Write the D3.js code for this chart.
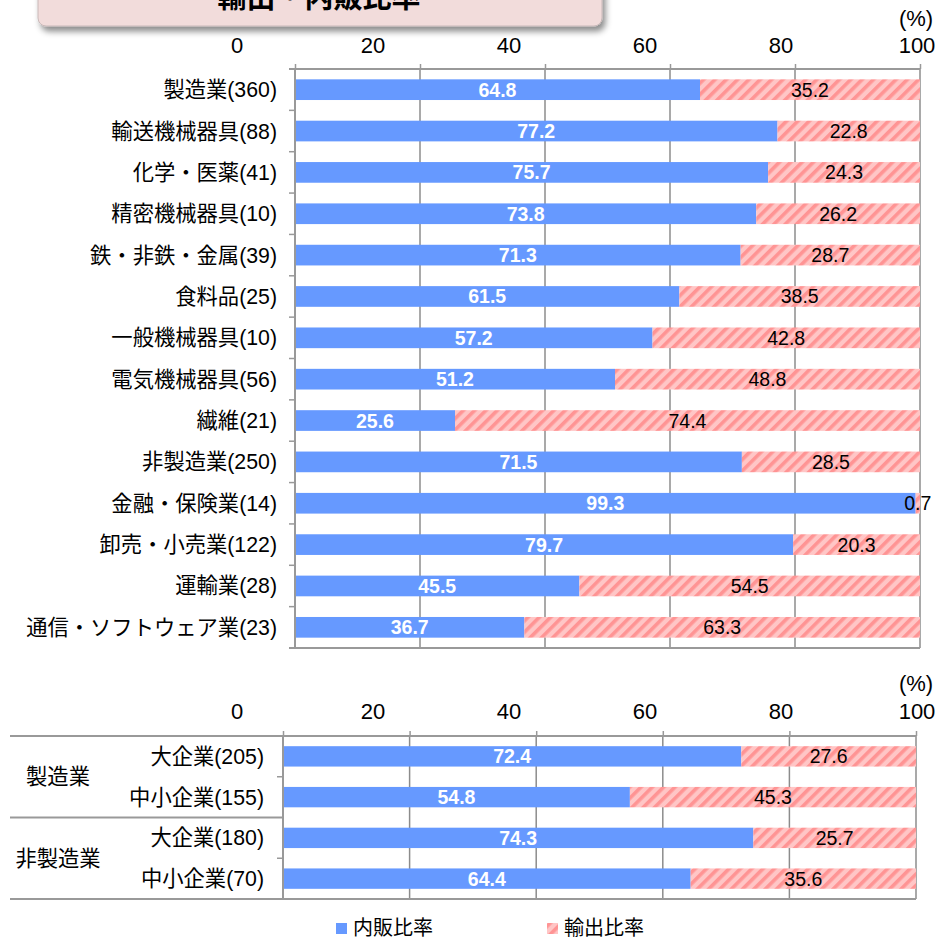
<!DOCTYPE html>
<html>
<head>
<meta charset="utf-8">
<script src="https://cdn.jsdelivr.net/npm/d3@7"></script>
<style>
  html, body { margin: 0; padding: 0; background: #fff; }
  svg { display: block; }
  text { font-family: "Liberation Sans", Arial, "Noto Sans CJK JP", sans-serif; }
</style>
</head>
<body>
<svg id="chart" width="945" height="939"></svg>
<script>
// ---------- data ----------
const titleText = "輸出・内販比率";
const seriesNames = ["内販比率", "輸出比率"];
const tickValues = [0, 20, 40, 60, 80, 100];

const topCategories = ["製造業(360)", "輸送機械器具(88)", "化学・医薬(41)", "精密機械器具(10)",
  "鉄・非鉄・金属(39)", "食料品(25)", "一般機械器具(10)", "電気機械器具(56)", "繊維(21)",
  "非製造業(250)", "金融・保険業(14)", "卸売・小売業(122)", "運輸業(28)", "通信・ソフトウェア業(23)"];
const topDomestic = [64.8, 77.2, 75.7, 73.8, 71.3, 61.5, 57.2, 51.2, 25.6, 71.5, 99.3, 79.7, 45.5, 36.7];
const topExport   = [35.2, 22.8, 24.3, 26.2, 28.7, 38.5, 42.8, 48.8, 74.4, 28.5, 0.7, 20.3, 54.5, 63.3];

const botGroups = ["製造業", "非製造業"];
const botSub = ["大企業(205)", "中小企業(155)", "大企業(180)", "中小企業(70)"];
const botGroupOf = [0, 0, 1, 1];
const botDomestic = [72.4, 54.8, 74.3, 64.4];
const botExport   = [27.6, 45.3, 25.7, 35.6];

// ---------- styles ----------
const BLUE = "#6699FF";
const PINK_BG = "#FFC6C6";
const PINK_ST = "#FF9494";
const GRID = "#8c8c8c";
const AXIS = "#999999";
const LABEL_FS = 21.3;
const VALUE_FS = 19.5;

const svg = d3.select("#chart");
const defs = svg.append("defs");

const pat = defs.append("pattern")
  .attr("id", "hatch").attr("patternUnits", "userSpaceOnUse")
  .attr("width", 8).attr("height", 8)
  .attr("patternTransform", "rotate(45)");
pat.append("rect").attr("width", 8).attr("height", 8).attr("fill", PINK_BG);
pat.append("rect").attr("x", 0).attr("y", 0).attr("width", 3.6).attr("height", 8).attr("fill", PINK_ST);

const sh = defs.append("filter").attr("id", "shadow")
  .attr("x", "-10%").attr("y", "-50%").attr("width", "130%").attr("height", "250%");
sh.append("feDropShadow").attr("dx", 3).attr("dy", 5).attr("stdDeviation", 3)
  .attr("flood-color", "#000").attr("flood-opacity", 0.45);

// ---------- title box ----------
svg.append("rect")
  .attr("x", 38).attr("y", -20).attr("width", 564).attr("height", 46)
  .attr("rx", 8).attr("fill", "#F2DCDB").attr("stroke", "#c8b8b8").attr("stroke-width", 1)
  .attr("filter", "url(#shadow)");
svg.append("text")
  .attr("x", 319).attr("y", 8)
  .attr("text-anchor", "middle")
  .attr("font-size", 29).attr("font-weight", "bold").attr("fill", "#000")
  .text(titleText);

// ---------- generic panel ----------
function drawPanel(opt) {
  const { cats, dom, exp, xRange, yRange, labelRange, labelBaseline, pctBaseline, catLabelX } = opt;
  const x = d3.scaleLinear().domain([0, 100]).range(xRange);
  const xl = d3.scaleLinear().domain([0, 100]).range(labelRange);
  const y = d3.scaleBand().domain(d3.range(cats.length)).range(yRange)
    .paddingInner(0.5).paddingOuter(0.25);
  const g = svg.append("g");
  const top = yRange[0], bottom = yRange[1];

  // gridlines
  g.append("g").selectAll("line").data(tickValues).join("line")
    .attr("x1", d => x(d)).attr("x2", d => x(d))
    .attr("y1", top).attr("y2", bottom)
    .attr("stroke", GRID).attr("stroke-width", 1.5);

  // top axis with tick marks
  const ax = g.append("g").attr("transform", `translate(0,${top})`)
    .call(d3.axisTop(x).tickValues(tickValues).tickSize(5).tickSizeOuter(0).tickFormat(""));
  ax.select(".domain").remove();
  ax.selectAll(".tick line").attr("stroke", AXIS).attr("stroke-width", 1.5);

  // tick labels (offset row, as in the reference)
  g.append("g").selectAll("text").data(tickValues).join("text")
    .attr("x", d => xl(d)).attr("y", labelBaseline)
    .attr("text-anchor", "middle").attr("font-size", 22).attr("fill", "#000")
    .text(d => d);
  g.append("text").attr("x", 916).attr("y", pctBaseline)
    .attr("text-anchor", "middle").attr("font-size", 22).attr("fill", "#000").text("(%)");

  // bars
  const rows = cats.map((c, i) => ({ i, d: dom[i], e: exp[i] }));
  g.append("g").selectAll("rect").data(rows).join("rect")
    .attr("x", r => x(0)).attr("y", r => y(r.i))
    .attr("width", r => x(r.d) - x(0)).attr("height", y.bandwidth())
    .attr("fill", BLUE);
  g.append("g").selectAll("rect").data(rows).join("rect")
    .attr("x", r => x(r.d)).attr("y", r => y(r.i))
    .attr("width", r => Math.min(x(r.d + r.e), x(100)) - x(r.d)).attr("height", y.bandwidth())
    .attr("fill", "url(#hatch)");

  // value labels
  g.append("g").selectAll("text").data(rows).join("text")
    .attr("x", r => (x(0) + x(r.d)) / 2).attr("y", r => y(r.i) + y.bandwidth() / 2 + 7)
    .attr("text-anchor", "middle").attr("font-size", VALUE_FS).attr("font-weight", "bold")
    .attr("fill", "#fff").text(r => r.d.toFixed(1));
  g.append("g").selectAll("text").data(rows).join("text")
    .attr("x", r => (x(r.d) + Math.min(x(r.d + r.e), x(100))) / 2).attr("y", r => y(r.i) + y.bandwidth() / 2 + 7)
    .attr("text-anchor", "middle").attr("font-size", VALUE_FS)
    .attr("fill", "#000").text(r => r.e.toFixed(1));

  // axis lines
  g.append("line").attr("x1", x(0) - 6).attr("x2", x(100)).attr("y1", top).attr("y2", top)
    .attr("stroke", AXIS).attr("stroke-width", 2);
  g.append("line").attr("x1", x(0) - 6).attr("x2", x(100)).attr("y1", bottom).attr("y2", bottom)
    .attr("stroke", AXIS).attr("stroke-width", 2);
  g.append("line").attr("x1", x(0)).attr("x2", x(0)).attr("y1", top).attr("y2", bottom)
    .attr("stroke", AXIS).attr("stroke-width", 2);

  // category labels
  g.append("g").selectAll("text").data(cats).join("text")
    .attr("x", catLabelX).attr("y", (c, i) => y(i) + y.bandwidth() / 2 + 7.5)
    .attr("text-anchor", "end").attr("font-size", LABEL_FS).attr("fill", "#000")
    .text(c => c);
  return { x, y, g, top, bottom };
}

// ---------- top panel ----------
const P1 = drawPanel({
  cats: topCategories, dom: topDomestic, exp: topExport,
  xRange: [295, 920], yRange: [69, 648], labelRange: [237, 917],
  labelBaseline: 53, pctBaseline: 26, catLabelX: 277
});
// left ticks at category boundaries
{
  const step = P1.y.step();
  const b = d3.range(1, topCategories.length).map(k => P1.top + k * step);
  P1.g.append("g").selectAll("line").data(b).join("line")
    .attr("x1", P1.x(0) - 6).attr("x2", P1.x(0)).attr("y1", d => d).attr("y2", d => d)
    .attr("stroke", AXIS).attr("stroke-width", 1.5);
}

// ---------- bottom panel ----------
const P2 = drawPanel({
  cats: botSub, dom: botDomestic, exp: botExport,
  xRange: [283, 916], yRange: [736, 899], labelRange: [237, 917],
  labelBaseline: 719, pctBaseline: 691, catLabelX: 264
});
{
  const step = P2.y.step();
  // group separator lines spanning the label table
  const groupEdges = [0, 2, 4].map(k => P2.top + k * step);
  P2.g.append("g").selectAll("line").data(groupEdges).join("line")
    .attr("x1", 10).attr("x2", P2.x(0)).attr("y1", d => d).attr("y2", d => d)
    .attr("stroke", AXIS).attr("stroke-width", 2);
  // inner ticks
  const inner = [1, 3].map(k => P2.top + k * step);
  P2.g.append("g").selectAll("line").data(inner).join("line")
    .attr("x1", P2.x(0) - 6).attr("x2", P2.x(0)).attr("y1", d => d).attr("y2", d => d)
    .attr("stroke", AXIS).attr("stroke-width", 1.5);
  // group labels
  P2.g.append("g").selectAll("text").data(botGroups).join("text")
    .attr("x", 58).attr("y", (gname, gi) => {
      const idx = botGroupOf.map((v, i) => v === gi ? i : -1).filter(i => i >= 0);
      const y0 = P2.top + idx[0] * step, y1 = P2.top + (idx[idx.length - 1] + 1) * step;
      return (y0 + y1) / 2 + 7.5;
    })
    .attr("text-anchor", "middle").attr("font-size", LABEL_FS).attr("fill", "#000")
    .text(d => d);
}

// ---------- legend ----------
const legend = svg.append("g");
const legendItems = [
  { name: seriesNames[0], fill: BLUE, x: 336 },
  { name: seriesNames[1], fill: "url(#hatch)", x: 547 }
];
legend.selectAll("rect").data(legendItems).join("rect")
  .attr("x", d => d.x).attr("y", 923).attr("width", 11).attr("height", 11)
  .attr("fill", d => d.fill);
legend.selectAll("text").data(legendItems).join("text")
  .attr("x", d => d.x + 17).attr("y", 935)
  .attr("font-size", 20).attr("fill", "#000").text(d => d.name);
</script>
</body>
</html>
